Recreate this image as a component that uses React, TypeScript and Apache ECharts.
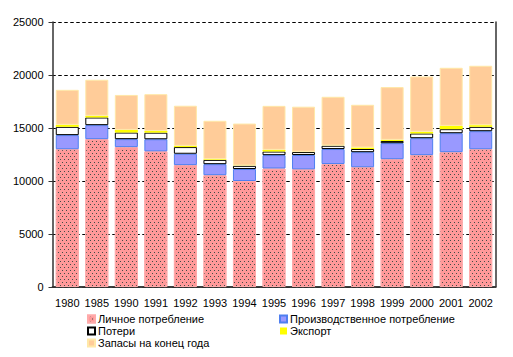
import React, { useEffect, useRef } from "react";
import * as echarts from "echarts";

const years = ["1980","1985","1990","1991","1992","1993","1994","1995","1996","1997","1998","1999","2000","2001","2002"];
const personal = [13000,13950,13200,12800,11500,10550,10000,11180,11100,11600,11300,12060,12440,12720,13000];
const production = [1330,1320,750,1140,1070,1040,1130,1260,1350,1415,1420,1510,1600,1790,1700];
const losses = [780,720,620,620,630,400,300,340,280,310,300,200,440,380,410];
const exportV = [190,160,250,160,120,70,30,160,30,20,140,110,160,310,160];
const stocks = [3300,3400,3300,3470,3780,3620,3960,4150,4250,4600,4030,4980,5220,5480,5600];
const names = ["Личное потребление","Производственное потребление","Потери","Экспорт","Запасы на конец года"];

export default function App() {
  const ref = useRef<HTMLDivElement>(null);
  useEffect(() => {
    const chart = echarts.init(ref.current!, null, { renderer: "svg" });
    const font = "Liberation Sans, Arial, sans-serif";
    const base = { type: "bar", stack: "t", barWidth: 23 };
    const gridLine = { show: true, lineStyle: { color: "#000", type: [3, 3], width: 1, opacity: 1 } };
    const legendCommon = {
      orient: "vertical",
      top: 313,
      itemWidth: 7,
      itemHeight: 7,
      itemGap: 0,
      icon: "rect",
      padding: 0,
      textStyle: { fontSize: 11, fontFamily: font, color: "#000", lineHeight: 12, padding: [0, 0, 0, -2] },
    };
    chart.setOption({
      animation: false,
      textStyle: { fontFamily: font },
      grid: { left: 52.5, right: 17.5, top: 22, bottom: 70, containLabel: false },
      xAxis: [
        {
          type: "category",
          data: years,
          axisLine: { lineStyle: { color: "#333", width: 1.5 } },
          axisTick: { length: 4, lineStyle: { color: "#333" } },
          axisLabel: { color: "#000", fontSize: 11, fontFamily: font, margin: 10, interval: 0 },
        },
        {
          type: "category",
          position: "top",
          data: years,
          axisLine: { show: true, lineStyle: { color: "#333", width: 1.5 } },
          axisTick: { show: false },
          axisLabel: { show: false },
        },
      ],
      yAxis: [
        {
          type: "value",
          min: 0,
          max: 25000,
          interval: 5000,
          axisLine: { show: true, lineStyle: { color: "#333", width: 1.5 } },
          axisTick: { show: true, length: 4, lineStyle: { color: "#333" } },
          axisLabel: { color: "#000", fontSize: 11, fontFamily: font, margin: 9, formatter: (v: number) => String(v) },
          splitLine: gridLine,
        },
        {
          type: "value",
          position: "right",
          min: 0,
          max: 25000,
          interval: 5000,
          axisLine: { show: true, lineStyle: { color: "#333", width: 1.5 } },
          axisTick: { show: false },
          axisLabel: { show: false },
          splitLine: gridLine,
        },
      ],
      legend: [
        { ...legendCommon, data: [names[0], names[2], names[4]], left: 87 },
        { ...legendCommon, data: [names[1], names[3]], left: 279 },
      ],
      series: [
        {
          ...base,
          name: names[0],
          data: personal,
          itemStyle: {
            color: "#ff9999",
            borderColor: "#ffaaaa",
            borderWidth: 1,
            decal: {
              symbol: "rect",
              symbolSize: 0.85,
              color: "#1f3f3a",
              dashArrayX: [[1, 3], [0, 2, 1, 1]],
              dashArrayY: [1, 2],
            },
          },
        },
        { ...base, name: names[1], data: production, itemStyle: { color: "#9999ff", borderColor: "#4f7ff0", borderWidth: 1 } },
        { ...base, name: names[2], data: losses, itemStyle: { color: "#ffffff", borderColor: "#000", borderWidth: 1 } },
        { ...base, name: names[3], data: exportV, itemStyle: { color: "#ffff00" } },
        { ...base, name: names[4], data: stocks, itemStyle: { color: "#ffcc99", borderColor: "#ffe8a8", borderWidth: 1 } },
      ],
    });
    return () => chart.dispose();
  }, []);
  return <div ref={ref} style={{ width: 513, height: 357, position: "absolute", left: 0, top: 0 }} />;
}
